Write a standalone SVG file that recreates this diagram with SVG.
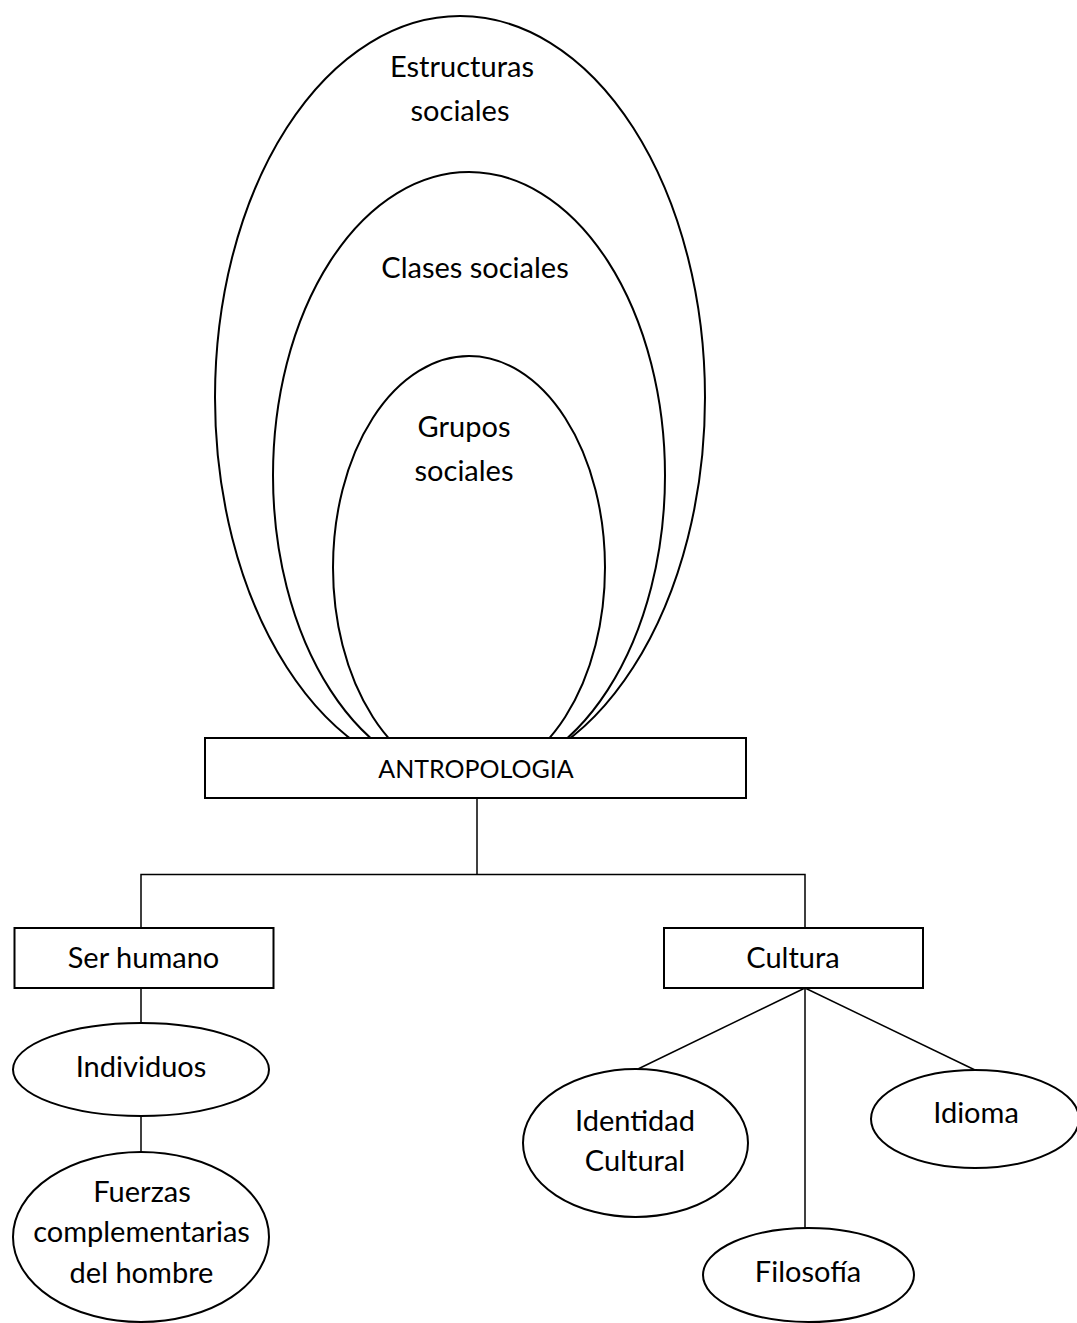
<svg xmlns="http://www.w3.org/2000/svg" width="1077" height="1323" viewBox="0 0 1077 1323">
<style>
.shape{fill:none;stroke:#000;stroke-width:2}
.box{fill:#fff;stroke:#000;stroke-width:2}
.conn{fill:none;stroke:#000;stroke-width:1.5}
text{font-family:Lato,"Liberation Sans",sans-serif;font-size:29px;fill:#000;text-anchor:middle}
.caps{font-size:25px}
</style>
<rect width="1077" height="1323" fill="#fff"/>
<g id="estructuras">
<ellipse class="shape" cx="460" cy="397.5" rx="245" ry="381.5"/>
<text x="462" y="77">Estructuras</text>
<text x="460" y="121">sociales</text>
</g>
<g id="clases">
<ellipse class="shape" cx="469" cy="475.5" rx="196" ry="303.5"/>
<text x="475" y="278">Clases sociales</text>
</g>
<g id="grupos">
<ellipse class="shape" cx="469" cy="567.5" rx="136" ry="211.5"/>
<text x="464" y="437">Grupos</text>
<text x="464" y="481">sociales</text>
</g>
<g id="connectors">
<polyline class="conn" points="477,798 477,874.5"/>
<polyline class="conn" points="141,928 141,874.5 805,874.5 805,928"/>
<line class="conn" x1="141" y1="988" x2="141" y2="1023"/>
<line class="conn" x1="141" y1="1116" x2="141" y2="1152"/>
<line class="conn" x1="805" y1="988" x2="638" y2="1069"/>
<line class="conn" x1="805" y1="988" x2="975" y2="1070"/>
<line class="conn" x1="805" y1="988" x2="805" y2="1228"/>
</g>
<g id="antropologia">
<rect class="box" x="205" y="738" width="541" height="60"/>
<text class="caps" x="476" y="778">ANTROPOLOGIA</text>
</g>
<g id="ser-humano">
<rect class="box" x="14.5" y="928" width="259" height="60"/>
<text x="143.5" y="968">Ser humano</text>
</g>
<g id="cultura">
<rect class="box" x="664" y="928" width="259" height="60"/>
<text x="793" y="968">Cultura</text>
</g>
<g id="individuos">
<ellipse class="shape" cx="141" cy="1069.5" rx="128" ry="46.5"/>
<text x="141" y="1077">Individuos</text>
</g>
<g id="fuerzas">
<ellipse class="shape" cx="141" cy="1237" rx="128" ry="85"/>
<text x="142" y="1202">Fuerzas</text>
<text x="141.5" y="1242">complementarias</text>
<text x="141.5" y="1283">del hombre</text>
</g>
<g id="identidad">
<ellipse class="shape" cx="635.5" cy="1143" rx="112.5" ry="74"/>
<text x="635" y="1131">Identidad</text>
<text x="635" y="1171">Cultural</text>
</g>
<g id="idioma">
<ellipse class="shape" cx="975" cy="1119" rx="104" ry="49"/>
<text x="976" y="1123">Idioma</text>
</g>
<g id="filosofia">
<ellipse class="shape" cx="808.5" cy="1275" rx="105.5" ry="47"/>
<text x="808" y="1282">Filosofía</text>
</g>
</svg>
